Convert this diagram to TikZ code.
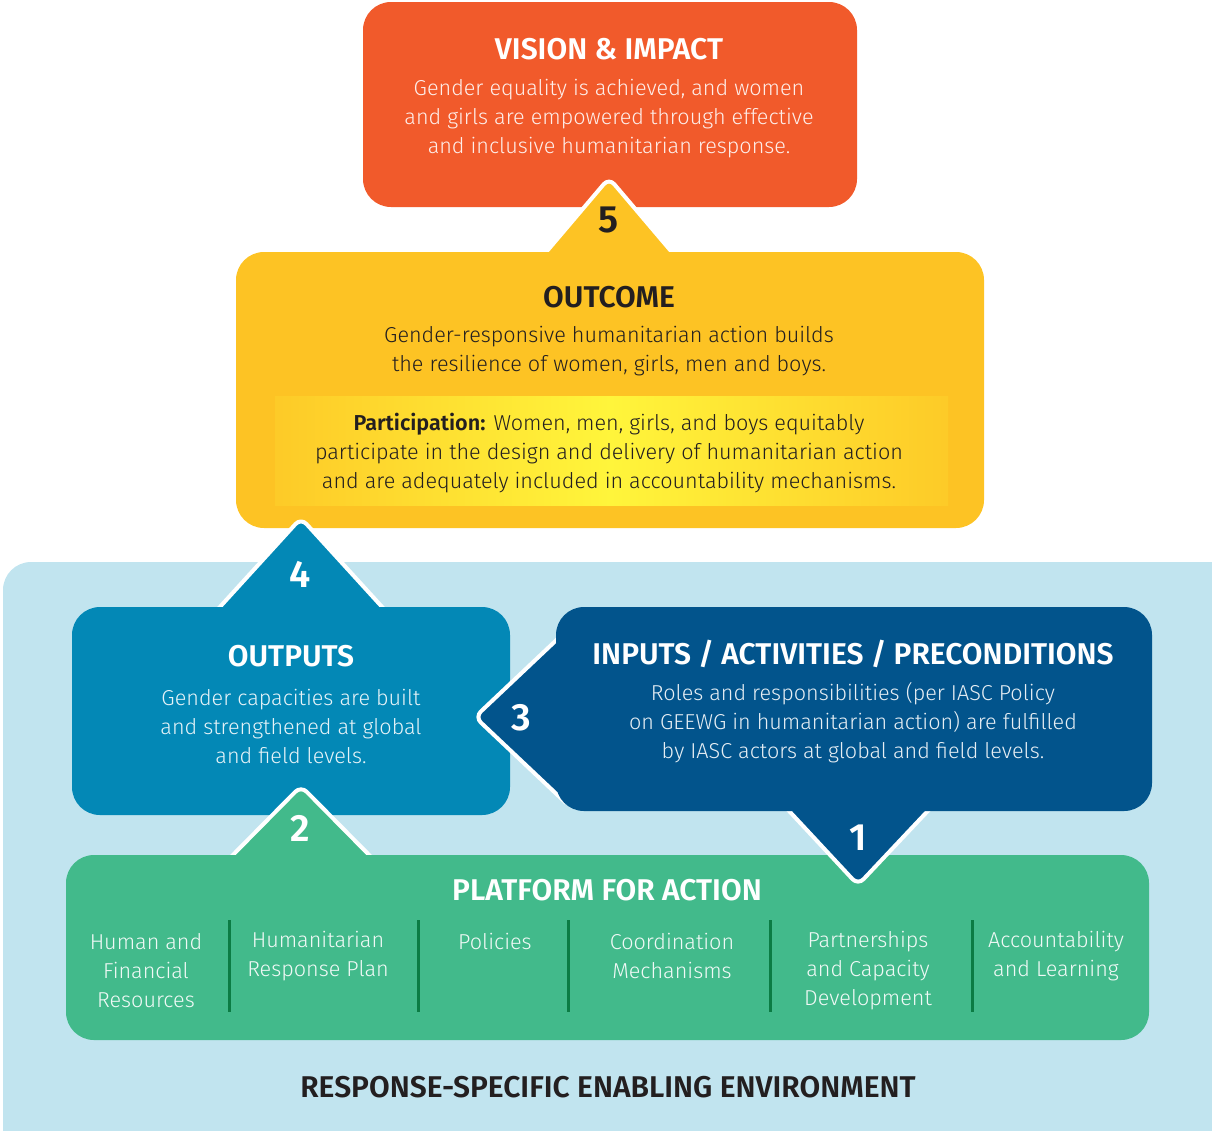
\documentclass[tikz,border=0pt]{standalone}
\usepackage{fontspec}
\setmainfont{Fira Sans}[UprightFont={* Light}, BoldFont={* SemiBold}]
\usetikzlibrary{positioning,calc}

\definecolor{visionred}{HTML}{F15A2B}
\definecolor{outcomeyel}{HTML}{FDC324}
\definecolor{brightyel}{HTML}{FFF53B}
\definecolor{outputblue}{HTML}{0388B6}
\definecolor{inputblue}{HTML}{02548C}
\definecolor{platgreen}{HTML}{42BA8B}
\definecolor{envblue}{HTML}{C1E4EF}
\definecolor{divgreen}{HTML}{0B7C44}
\definecolor{darktext}{HTML}{231F20}

\begin{document}
\begin{tikzpicture}[x=1pt,y=-1pt,
  box/.style={rounded corners=28pt, inner sep=0pt},
  tip/.style={draw=white, line width=4pt, rounded corners=8pt, line join=round},
  head/.style={font=\fontsize{30}{34}\selectfont\bfseries, align=center},
  body/.style={font=\fontsize{21.6}{29}\selectfont, align=center},
  num/.style={font=\fontsize{38}{38}\selectfont\bfseries},
  col/.style={font=\fontsize{21.6}{29}\selectfont, align=center, text=white!92!platgreen},
  sep/.style={draw=divgreen, line width=3pt}]
\useasboundingbox (0,0) rectangle (1212,1130);
\clip (0,0) rectangle (1212,1130);

\node[box, fill=envblue, minimum width=1240, minimum height=620] (env) at (623,872) {};

\node[box, fill=visionred, minimum width=494, minimum height=205] (vbox) at (610,104.5) {};
\filldraw[tip, fill=outcomeyel] (536,264) -- (609,178) -- (682,264);
\node[box, fill=outcomeyel, minimum width=748, minimum height=276] (obox) at (610,390) {};
\shade[left color=outcomeyel!85!brightyel, right color=brightyel] (275,396) rectangle (610,505);
\shade[left color=brightyel, right color=outcomeyel!85!brightyel] (610,396) rectangle (948,505);

\filldraw[tip, fill=outputblue] (208,620) -- (301,518) -- (394,620);
\node[box, fill=outputblue, minimum width=438, minimum height=208] (pbox) at (291,711) {};
\filldraw[tip, fill=platgreen] (220,868) -- (301,786) -- (382,868);
\node[box, fill=platgreen, minimum width=1083, minimum height=185] (fbox) at (607.5,947.5) {};
\filldraw[tip, fill=inputblue] (777,798) -- (858,885) -- (940,798);
\filldraw[tip, fill=inputblue] (566,631) -- (475,717) -- (566,803);
\node[box, fill=inputblue, minimum width=596, minimum height=204] (ibox) at (854,709) {};

\node[head, text=white] (vtitle) at (609,49) {VISION \& IMPACT};
\node[body, text=white!90!visionred] (vtext) at (609,119) {Gender equality is achieved, and women\\and girls are empowered through effective\\and inclusive humanitarian response.};
\node[num, text=darktext] (n5) at (609,220) {5};

\node[head, text=darktext] (otitle) at (609,297) {OUTCOME};
\node[body, text=darktext] (otext) at (609,351) {Gender-responsive humanitarian action builds\\the resilience of women, girls, men and boys.};
\node[body, text=darktext] (ptext) at (609,453) {\textbf{Participation:} Women, men, girls, and boys equitably\\participate in the design and delivery of humanitarian action\\and are adequately included in accountability mechanisms.};

\node[num, text=white] (n4) at (300,574) {4};
\node[head, text=white] (utitle) at (291,656) {OUTPUTS};
\node[body, text=white!90!outputblue] (utext) at (291,726) {Gender capacities are built\\and strengthened at global\\and field levels.};

\node[num, text=white] (n3) at (521,718) {3};
\node[head, text=white] (ititle) at (853,654) {INPUTS / ACTIVITIES / PRECONDITIONS};
\node[body, text=white!90!inputblue] (itext) at (853,723) {Roles and responsibilities (per IASC Policy\\on GEEWG in humanitarian action) are fulfilled\\by IASC actors at global and field levels.};

\node[num, text=white] (n2) at (300,828) {2};
\node[num, text=white] (n1) at (858,838) {1};

\node[head, text=white] (ftitle) at (607,890) {PLATFORM FOR ACTION};
\node[col] (c1) at (146,971) {Human and\\Financial\\Resources};
\node[col] (c2) at (318,956) {Humanitarian\\Response Plan};
\node[col] (c3) at (495,941) {Policies};
\node[col] (c4) at (672,956) {Coordination\\Mechanisms};
\node[col] (c5) at (868,971) {Partnerships\\and Capacity\\Development};
\node[col] (c6) at (1056,956) {Accountability\\and Learning};
\foreach \x in {229,418,568,770,972}
  \draw[sep] (\x,920) -- (\x,1012);

\node[head, text=darktext] (etitle) at (608,1087) {RESPONSE-SPECIFIC ENABLING ENVIRONMENT};
\end{tikzpicture}
\end{document}
